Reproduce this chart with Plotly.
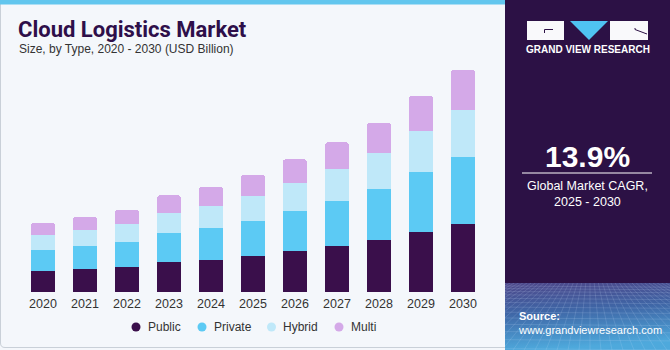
import base64
import plotly.graph_objects as go

# ---------------- data ----------------
years = ["2020", "2021", "2022", "2023", "2024", "2025", "2026", "2027", "2028", "2029", "2030"]
public = [4.32, 4.73, 5.14, 6.17, 6.58, 7.41, 8.37, 9.46, 10.70, 12.34, 13.99]
private = [4.39, 4.66, 5.21, 6.03, 6.58, 7.27, 8.30, 9.26, 10.56, 12.27, 13.85]
hybrid = [3.02, 3.29, 3.63, 4.11, 4.53, 5.07, 5.76, 6.58, 7.34, 8.50, 9.67]
multi = [2.47, 2.74, 2.95, 3.57, 3.91, 4.32, 4.87, 5.49, 6.24, 7.27, 8.23]
series_names = ["Public", "Private", "Hybrid", "Multi"]
series_colors = ["#3a0f4b", "#5ccaf4", "#bfe8f9", "#d4a9e8"]
highlight_year = "2024"
highlight_label = "$21.6B"
cagr_value = "13.9%"
cagr_text = "Global Market CAGR,<br>2025 - 2030"

# ---------------- geometry ----------------
W, H = 670, 350
ML, MR, MT, MB = 22, 186, 60, 58
PW, PH = W - ML - MR, H - MT - MB
legend_marker_x = [136, 202, 271.5, 339]   # layout positions of legend items (px)
legend_y = 327


def px(x):
    return (x - ML) / PW


def py(y):
    return (H - MB - y) / PH


def rect_path(x0, y0, x1, y1):
    return f"M {px(x0)},{py(y0)} L {px(x1)},{py(y0)} L {px(x1)},{py(y1)} L {px(x0)},{py(y1)} Z"


def box(x0, y0, x1, y1, color, **kw):
    return dict(type="path", xref="paper", yref="paper", path=rect_path(x0, y0, x1, y1),
                fillcolor=color, line=dict(width=0), opacity=1, **kw)


def svg_uri(svg):
    return "data:image/svg+xml;base64," + base64.b64encode(svg.encode("utf-8")).decode("ascii")


fig = go.Figure()
for name, vals, col in zip(series_names, [public, private, hybrid, multi], series_colors):
    fig.add_trace(go.Bar(
        x=years, y=vals, name=name, marker=dict(color=col, line=dict(width=0)),
        hoverinfo="skip", showlegend=False,
    ))

totals = [a + b + c + d for a, b, c, d in zip(public, private, hybrid, multi)]
hi = years.index(highlight_year)

shapes = []
annotations = []
images = []
FONT = "Liberation Sans"
PANEL = "#2c1145"
LOGO_WHITE = "#f9f9fb"

# left panel border
shapes.append(dict(type="path", xref="paper", yref="paper",
                   path=f"M {px(0.5)},{py(4)} L {px(0.5)},{py(343)} Q {px(0.5)},{py(347.5)} {px(5)},{py(347.5)} L {px(505)},{py(347.5)}",
                   line=dict(color="#c9d0d8", width=1), layer="below"))
# top blue strip
shapes.append(box(0, 0, 505, 4.5, "#62c6ee", layer="below"))
# right panel
shapes.append(box(505, 0, 670, 350, PANEL, layer="below"))
# logo blocks (below-layer shapes, drawn over the panel)
shapes.append(box(527, 21, 564, 40, LOGO_WHITE, layer="below"))
shapes.append(box(610, 21, 648, 40, LOGO_WHITE, layer="below"))

# bottom gradient + perspective grid of right panel (decorative svg)
gw, gh = 165, 67
grid = []
yy, step = 3.0, 2.6
while yy < gh:
    grid.append(f'<line x1="0" y1="{yy:.1f}" x2="{gw}" y2="{yy + 1.2:.1f}"/>')
    yy += step
    step *= 1.12
for k in range(-14, 34):
    xt = 85 + (k - 10) * 4.2
    xb = 85 + (k - 10) * 11.0
    grid.append(f'<line x1="{xt:.1f}" y1="0" x2="{xb:.1f}" y2="{gh}"/>')
grad_svg = (
    f'<svg xmlns="http://www.w3.org/2000/svg" width="{gw}" height="{gh}" viewBox="0 0 {gw} {gh}" preserveAspectRatio="none">'
    '<defs><linearGradient id="g" x1="0" y1="0" x2="0.15" y2="1">'
    '<stop offset="0" stop-color="#4d4689"/><stop offset="0.45" stop-color="#3f66a6"/>'
    '<stop offset="1" stop-color="#4ea9dc"/></linearGradient></defs>'
    f'<rect x="0" y="0" width="{gw}" height="{gh}" fill="url(#g)"/>'
    '<g stroke="#d2e4ff" stroke-opacity="0.22" stroke-width="0.7">' + "".join(grid) + '</g></svg>'
)
images.append(dict(source=svg_uri(grad_svg), xref="paper", yref="paper", x=px(505), y=py(283),
                   sizex=px(670) - px(505), sizey=py(283) - py(350), xanchor="left", yanchor="top",
                   sizing="stretch", layer="above"))

# logo (decorative svg)
logo_svg = (
    '<svg xmlns="http://www.w3.org/2000/svg" width="121" height="19" viewBox="0 0 121 19" preserveAspectRatio="none">'
    f'<rect x="0" y="0" width="37" height="19" fill="{LOGO_WHITE}"/>'
    f'<rect x="83" y="0" width="38" height="19" fill="{LOGO_WHITE}"/>'
    '<polygon points="43,0 81,0 62,19" fill="#4fc3f2"/>'
    f'<path d="M26,8.5 L17.5,8.5 L17.5,12" fill="none" stroke="{PANEL}" stroke-width="1"/>'
    f'<path d="M108,7 L108,8.5 L120,13" fill="none" stroke="{PANEL}" stroke-width="1"/>'
    '</svg>'
)
images.append(dict(source=svg_uri(logo_svg), xref="paper", yref="paper", x=px(527), y=py(21),
                   sizex=px(648) - px(527), sizey=py(21) - py(40), xanchor="left", yanchor="top",
                   sizing="stretch", layer="above"))

# CAGR divider line
shapes.append(dict(type="line", xref="paper", yref="paper",
                   x0=px(522), x1=px(652), y0=py(173), y1=py(173),
                   line=dict(color="#ffffff", width=1)))

# legend (circles + labels)
for name, col, mx in zip(series_names, series_colors, legend_marker_x):
    shapes.append(dict(type="circle", xref="paper", yref="paper",
                       x0=px(mx - 4.5), x1=px(mx + 4.5), y0=py(legend_y - 4.5), y1=py(legend_y + 4.5),
                       fillcolor=col, line=dict(width=0)))
    annotations.append(dict(xref="paper", yref="paper", x=px(mx + 9.5), y=py(legend_y), xanchor="left",
                            yanchor="middle", text=name, showarrow=False,
                            font=dict(family=FONT, size=12, color="#333333")))

annotations.append(dict(xref="paper", yref="paper", x=px(16), y=py(30), xanchor="left", yanchor="middle",
                        text="<b>Cloud Logistics Market</b>", showarrow=False,
                        font=dict(family="Roboto", size=22, color="#2e0f4a", weight=900)))
annotations.append(dict(xref="paper", yref="paper", x=px(17), y=py(48.5), xanchor="left", yanchor="middle",
                        text="Size, by Type, 2020 - 2030 (USD Billion)", showarrow=False,
                        font=dict(family=FONT, size=12, color="#333333")))
annotations.append(dict(xref="x", yref="y", x=highlight_year, y=totals[hi], xanchor="center", yanchor="bottom",
                        yshift=8, text=highlight_label, showarrow=False,
                        font=dict(family=FONT, size=14, color="#333333")))
annotations.append(dict(xref="paper", yref="paper", x=px(587.5), y=py(50), xanchor="center", yanchor="middle",
                        text="<b>GRAND VIEW RESEARCH</b>", showarrow=False,
                        font=dict(family=FONT, size=10, color="#ffffff")))
annotations.append(dict(xref="paper", yref="paper", x=px(587.5), y=py(156), xanchor="center", yanchor="middle",
                        text=f"<b>{cagr_value}</b>", showarrow=False,
                        font=dict(family=FONT, size=30, color="#ffffff")))
annotations.append(dict(xref="paper", yref="paper", x=px(587.5), y=py(194), xanchor="center", yanchor="middle",
                        text=cagr_text, showarrow=False, align="center",
                        font=dict(family=FONT, size=12.5, color="#ffffff")))
annotations.append(dict(xref="paper", yref="paper", x=px(516), y=py(323), xanchor="left", yanchor="middle",
                        text="<b>Source:</b><br>www.grandviewresearch.com", showarrow=False, align="left",
                        font=dict(family=FONT, size=11, color="#ffffff")))

fig.update_layout(
    width=W, height=H,
    margin=dict(l=ML, r=MR, t=MT, b=MB, pad=0),
    paper_bgcolor="#f4f7fb", plot_bgcolor="rgba(0,0,0,0)",
    barmode="stack", bargap=0.43, barcornerradius=3,
    font=dict(family=FONT, color="#333333"),
    xaxis=dict(type="category", range=[-0.5, 10.5], showgrid=False, showline=False, zeroline=False,
               ticks="", tickfont=dict(family=FONT, size=12.5, color="#333333"), ticklabelstandoff=2),
    yaxis=dict(range=[0, PH / 4.861], visible=False, showgrid=False, zeroline=False),
    showlegend=False,
    shapes=shapes, annotations=annotations, images=images,
)

fig.write_html("out.html")
